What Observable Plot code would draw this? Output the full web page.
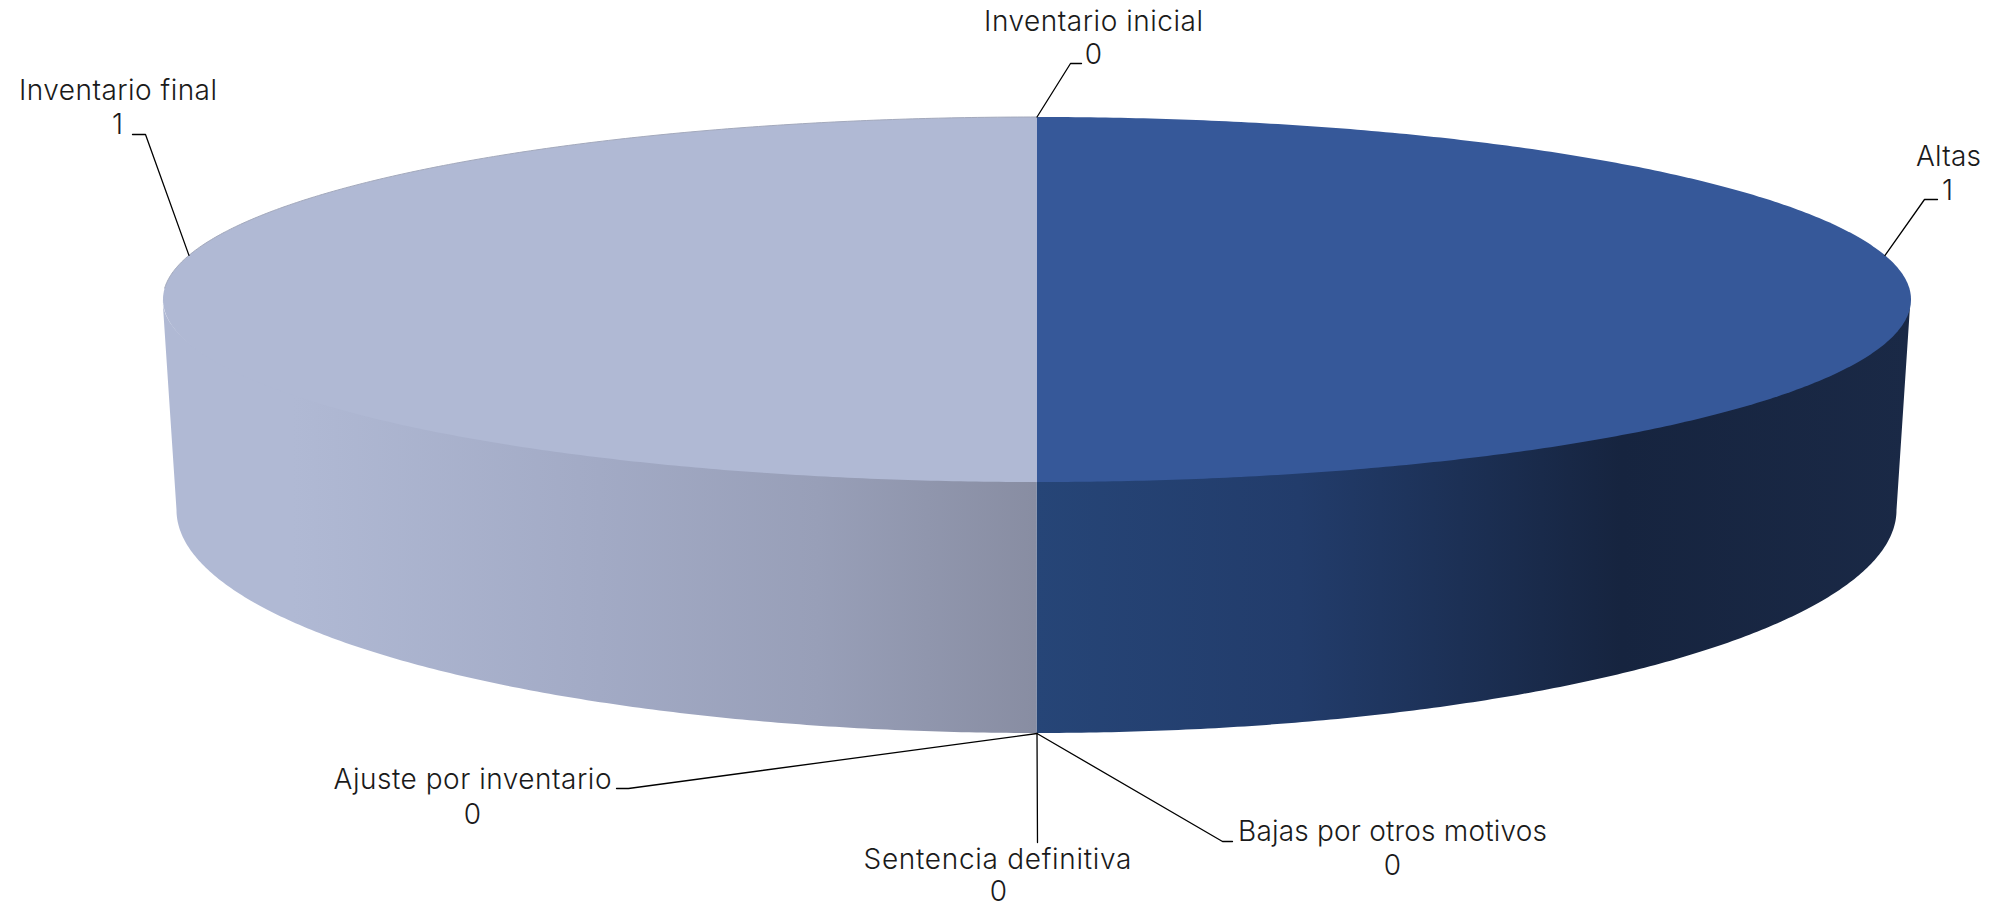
<!DOCTYPE html>
<html><head><meta charset="utf-8">
<style>html,body{margin:0;padding:0;background:#fff}svg{display:block}</style>
<script src="https://cdn.jsdelivr.net/npm/d3@7"></script>
<script src="https://cdn.jsdelivr.net/npm/@observablehq/plot@0.6"></script>
</head><body><div id="chart"></div>
<script>
// ---- chart values
const categories = ["Inventario inicial","Altas","Bajas por otros motivos","Sentencia definitiva","Ajuste por inventario","Inventario final"];
const values = [0,1,0,0,0,1];
// ---- styles per category
const topColors = ["#4f81bd","#365899","#8a3a3a","#6d8a3a","#5a4a85","#b0b9d4"];
const wallFills = {Altas:"url(#wallA)","Inventario final":"url(#wallF)"};
// ---- layout of the tilted pie, in picture pixels
const top_ = {cx:1036.5, cy:299, rx:874, ry:182.5};
const bottom_ = {cx:1036.5, cy:510, rx:860, ry:223};
// ---- label layout per category (baseline positions and measured widths)
const nameX = [1093,1948,1392,997,472,117.5];
const nameY = [30,165,840.5,868.5,788,99.5];
const nameWidth = [219,65,309,268,278,198];
const valueX = [1093,1947,1392,998,472,117];
const valueY = [63,199,874,900,823,133];
const leaderElbows = [
  [[1070,63],[1081,63]],
  [[1924,199],[1937,199]],
  [[1222,841],[1232,841]],
  [[1037,842]],
  [[628,788],[616,788]],
  [[145,134],[132,134]]
];
const leaderAngleOffset = [0,-14,0,0,0,14]; // degrees, from mid-angle of the slice

const pie = d3.pie().sort(null).startAngle(0).endAngle(2*Math.PI).value(d => d)(values);
const pt = (e,a) => [e.cx + e.rx*Math.sin(a), e.cy - e.ry*Math.cos(a)];
const range = (a0,a1,n) => d3.range(n+1).map(i => a0 + (a1-a0)*i/n);

const slices = pie.map((p,i) => ({name:categories[i], value:values[i], a0:p.startAngle, a1:p.endAngle, color:topColors[i]}));
const shown = slices.filter(s => s.value > 0);

const marks = [];
// gradients
marks.push(() => {
  const ns = "http://www.w3.org/2000/svg";
  const defs = document.createElementNS(ns,"defs");
  const grad = (id,stops) => {
    const g = document.createElementNS(ns,"linearGradient");
    g.setAttribute("id",id);
    for (const [o,c] of stops) {
      const s = document.createElementNS(ns,"stop");
      s.setAttribute("offset",o); s.setAttribute("stop-color",c); g.appendChild(s);
    }
    defs.appendChild(g);
  };
  grad("wallA",[[0,"#264577"],[0.3,"#223c6b"],[0.67,"#16243f"],[1,"#1a2946"]]);
  grad("wallF",[[0,"#b0b9d4"],[0.15,"#b0b9d4"],[0.5,"#a2aac5"],[0.75,"#989fb8"],[1,"#888da2"]]);
  return defs;
});
// walls: the front half of each slice; their upper rim sits a little under the top face so no seam shows
const wallTop = {...top_, ry: top_.ry - 3};
for (const s of shown) {
  const a0 = Math.max(s.a0, Math.PI/2), a1 = Math.min(s.a1, 3*Math.PI/2);
  if (a1 <= a0) continue;
  const rows = range(a0,a1,180).map(a => { const t = pt(wallTop,a), b = pt(bottom_,a); return {x1:t[0],y1:t[1],x2:b[0],y2:b[1]}; });
  marks.push(Plot.area(rows,{x1:"x1",y1:"y1",x2:"x2",y2:"y2",fill:wallFills[s.name],curve:"linear"}));
}
// top faces
for (const s of shown) {
  const poly = [[top_.cx,top_.cy],...range(s.a0,s.a1,360).map(a => pt(top_,a)),[top_.cx,top_.cy]];
  marks.push(Plot.line(poly,{x:d=>d[0],y:d=>d[1],fill:s.color,stroke:"none",curve:"linear"}));
}
// soft grey rim along the back left edge
marks.push(Plot.line(range(1.52*Math.PI,2*Math.PI,200).map(a => pt(top_,a)),{x:d=>d[0],y:d=>d[1],stroke:"#a3a9bc",strokeWidth:1,curve:"linear"}));
// leader lines
slices.forEach((s,i) => {
  const mid = (s.a0+s.a1)/2 + leaderAngleOffset[i]*Math.PI/180;
  const start = s.value > 0 ? pt(top_,mid)
    : (mid > Math.PI/2 && mid < 3*Math.PI/2) ? pt(bottom_,mid) : pt(top_,mid);
  marks.push(Plot.line([start,...leaderElbows[i]],{x:d=>d[0],y:d=>d[1],stroke:"#000",strokeWidth:1.3,curve:"linear"}));
});
// labels
const font = {fontFamily:"Inter, 'DejaVu Sans', sans-serif", fontSize:28, fontWeight:300, fill:"#1a1a1a", lineAnchor:"bottom", textAnchor:"middle"};
marks.push(Plot.text(slices,{x:(d,i)=>nameX[i],y:(d,i)=>nameY[i],text:"name",...font}));
marks.push(Plot.text(slices,{x:(d,i)=>valueX[i],y:(d,i)=>valueY[i],text:d=>String(d.value),...font}));

const chart = Plot.plot({
  width:2011,height:907,margin:0,
  x:{domain:[0,2011],range:[0,2011],axis:null},
  y:{domain:[0,907],range:[0,907],axis:null},
  style:{background:"#fff"},
  marks
});
// stretch the category names to the widths they have in the reference
const names = new Map(categories.map((c,i) => [c,nameWidth[i]]));
chart.querySelectorAll("text").forEach(t => {
  if (names.has(t.textContent)) {
    t.setAttribute("textLength", names.get(t.textContent));
    t.setAttribute("lengthAdjust","spacing");
  }
});
document.getElementById("chart").appendChild(chart);
</script></body></html>
